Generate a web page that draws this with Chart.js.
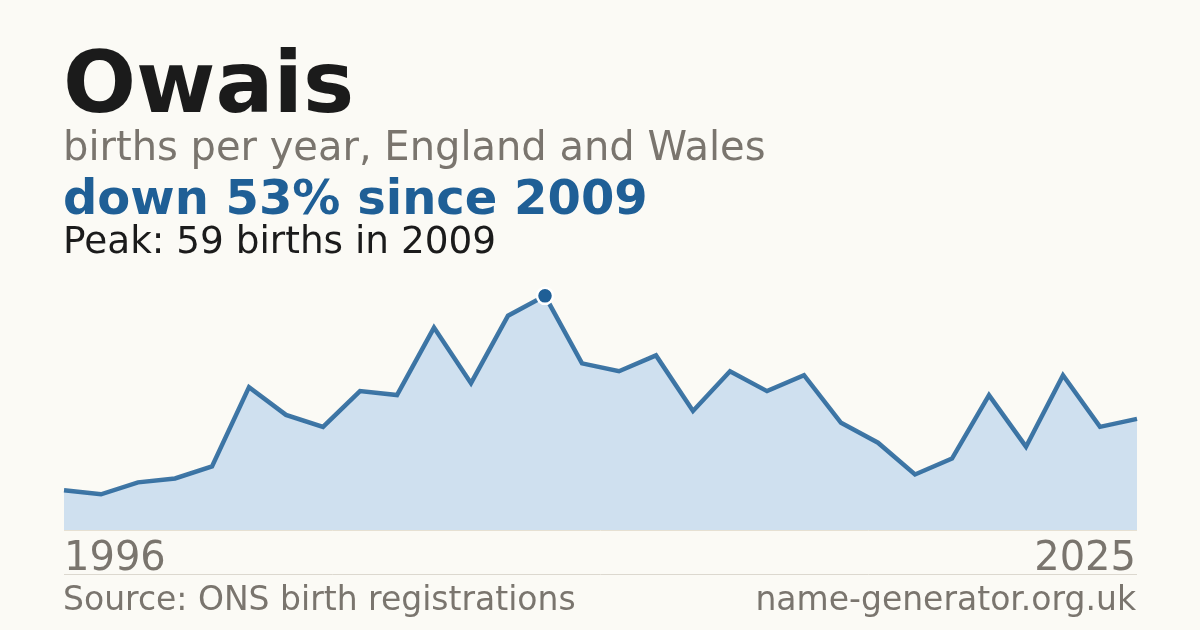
<!DOCTYPE html>
<html>
<head>
<meta charset="utf-8">
<script src="https://cdn.jsdelivr.net/npm/chart.js@4.4.1/dist/chart.umd.min.js"></script>
<style>
  html, body { margin: 0; padding: 0; background: #fbfaf5; }
  #wrap { width: 1200px; height: 630px; position: relative; }
  canvas { display: block; }
</style>
</head>
<body>
<div id="wrap"><canvas id="c" width="1200" height="630"></canvas></div>
<script>
const years = [1996,1997,1998,1999,2000,2001,2002,2003,2004,2005,2006,2007,2008,2009,2010,2011,2012,2013,2014,2015,2016,2017,2018,2019,2020,2021,2022,2023,2024,2025];
const births = [10,9,12,13,16,36,29,26,35,34,51,37,54,59,42,40,44,30,40,35,39,27,22,14,18,34,21,39,26,28];
const titleText = "Owais";
const subtitleText = "births per year, England and Wales";
const changeText = "down 53% since 2009";
const peakText = "Peak: 59 births in 2009";
const sourceText = "Source: ONS birth registrations";
const siteText = "name-generator.org.uk";

const peakIndex = births.indexOf(Math.max(...births));
const FONT = '"DejaVu Sans", sans-serif';

const textPlugin = {
  id: 'texts',
  beforeDraw(chart) {
    const ctx = chart.ctx;
    ctx.save();
    ctx.fillStyle = '#fbfaf5';
    ctx.fillRect(0, 0, chart.width, chart.height);
    ctx.restore();
  },
  afterDraw(chart) {
    const ctx = chart.ctx;
    const a = chart.chartArea;
    ctx.save();
    ctx.textBaseline = 'alphabetic';
    ctx.textAlign = 'left';
    ctx.fillStyle = '#1b1b1b';
    ctx.font = 'bold 86px ' + FONT;
    ctx.fillText(titleText, 63, 112);
    ctx.fillStyle = '#7a756e';
    ctx.font = '40px ' + FONT;
    ctx.fillText(subtitleText, 63, 160);
    ctx.fillStyle = '#1f5f96';
    ctx.font = 'bold 48px ' + FONT;
    ctx.fillText(changeText, 63, 214);
    ctx.fillStyle = '#1b1b1b';
    ctx.font = '37.4px ' + FONT;
    ctx.fillText(peakText, 63, 253);

    // baseline
    ctx.strokeStyle = '#e6e0d2';
    ctx.lineWidth = 1;
    ctx.beginPath();
    ctx.moveTo(a.left, a.bottom + 0.5);
    ctx.lineTo(a.right, a.bottom + 0.5);
    ctx.stroke();

    // year labels
    ctx.fillStyle = '#7a756e';
    ctx.font = '40px ' + FONT;
    ctx.textAlign = 'left';
    ctx.fillText(String(years[0]), 64, 570);
    ctx.textAlign = 'right';
    ctx.fillText(String(years[years.length - 1]), a.right - 1, 570);

    // separator
    ctx.strokeStyle = '#dcd8cf';
    ctx.beginPath();
    ctx.moveTo(a.left, 574.5);
    ctx.lineTo(a.right, 574.5);
    ctx.stroke();

    ctx.font = '33px ' + FONT;
    ctx.textAlign = 'left';
    ctx.fillText(sourceText, 63, 610);
    ctx.textAlign = 'right';
    ctx.fillText(siteText, a.right - 1, 610);
    ctx.restore();
  }
};

new Chart(document.getElementById('c'), {
  type: 'line',
  data: {
    labels: years,
    datasets: [{
      data: births,
      borderColor: 'rgba(31,95,150,0.85)',
      borderWidth: 4.5,
      backgroundColor: '#cfe0ef',
      fill: 'origin',
      tension: 0,
      pointRadius: (c) => c.dataIndex === peakIndex ? 8 : 0,
      pointHoverRadius: 0,
      pointBackgroundColor: '#1f5f96',
      pointBorderColor: '#ffffff',
      pointBorderWidth: 2.5
    }]
  },
  options: {
    responsive: false,
    animation: false,
    devicePixelRatio: 1,
    layout: { padding: { left: 64, right: 63, top: 280, bottom: 100 } },
    plugins: { legend: { display: false }, tooltip: { enabled: false } },
    scales: {
      x: { display: false, offset: false },
      y: { display: false, min: 0, max: 63 }
    }
  },
  plugins: [textPlugin]
});
</script>
</body>
</html>
